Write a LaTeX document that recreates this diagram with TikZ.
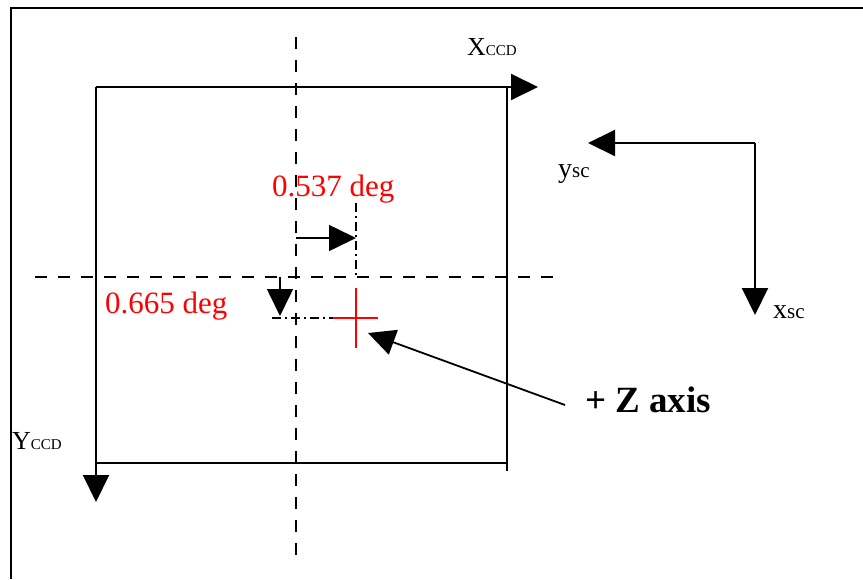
\documentclass[tikz,border=0pt]{standalone}
\usepackage{fontspec}
\setmainfont{Liberation Serif}
\usetikzlibrary{arrows.meta}

% axis name with a smaller index on the same line
\newcommand{\axname}[4][26]{{\fontsize{#1}{#1}\selectfont #3}{\fontsize{#2}{#2}\selectfont #4}}

\begin{document}
\begin{tikzpicture}[x=1pt, y=-1pt,
    >={Triangle[length=27pt, width=26pt]},
    frame/.style={line width=2.2pt},
    ccdline/.style={line width=2pt},
    axis/.style={line width=2pt, ->},
    guide/.style={line width=2pt, dash pattern=on 12pt off 11pt},
    offsetline/.style={line width=1.3pt, dash pattern=on 9pt off 4pt on 2pt off 4pt},
    dimarrow/.style={line width=1.6pt, ->},
    lbl/.style={anchor=base west, inner sep=0pt},
    degtext/.style={lbl, text=red, font=\fontsize{31}{31}\selectfont}]
  \useasboundingbox (0,0) rectangle (863,579);

  % outer frame
  \draw[frame] (863,8) -- (11,8) -- (11,579);

  % CCD field
  \coordinate (ccdTL) at (96,87);
  \coordinate (ccdTR) at (507,87);
  \coordinate (ccdBL) at (96,463);
  \coordinate (ccdBR) at (507,463);
  \coordinate (ccdRend) at (507,471);
  \coordinate (xccd) at (538,87);
  \coordinate (yccd) at (96,502);
  \draw[ccdline] (ccdTR) -- (ccdRend);
  \draw[ccdline] (ccdBL) -- (ccdBR);
  \draw[axis] (ccdTL) -- (xccd);
  \draw[axis] (ccdTL) -- (yccd);
  \node[lbl] (xccdlbl) at (467,55) {\axname{15}{X}{CCD}};
  \node[lbl] (yccdlbl) at (12,449) {\axname{15}{Y}{CCD}};

  % spacecraft axes
  \coordinate (sc) at (755,143);
  \coordinate (ysc) at (588,143);
  \coordinate (xsc) at (755,315);
  \draw[axis] (sc) -- (ysc);
  \draw[axis] (sc) -- (xsc);
  \node[lbl] (ysclbl) at (558,177) {\axname[28]{21}{y}{sc}};
  \node[lbl] (xsclbl) at (773,318) {\axname[28]{21}{x}{sc}};

  % centre lines
  \coordinate (vtop) at (296,37);
  \coordinate (vbot) at (296,560);
  \coordinate (hleft) at (35,277);
  \coordinate (hright) at (555,277);
  \draw[guide] (vtop) -- (vbot);
  \draw[guide] (hleft) -- (hright);

  % offsets of the boresight
  \coordinate (zc) at (356,318);
  \coordinate (dxa) at (296,238);
  \coordinate (dxb) at (356,238);
  \coordinate (dya) at (280,277);
  \coordinate (dyb) at (280,316);
  \draw[offsetline] (356,203) -- (356,277);
  \draw[offsetline] (272,318) -- (333,318);
  \draw[dimarrow] (dxa) -- (dxb);
  \draw[dimarrow] (dya) -- (dyb);
  \node[degtext] (dxlbl) at (272,196) {0.537 deg};
  \node[degtext] (dylbl) at (105,313) {0.665 deg};

  % +Z marker
  \draw[red, line width=1.5pt] ([xshift=-23pt]zc) -- ([xshift=22pt]zc)
    ([yshift=30pt]zc) -- ([yshift=-30pt]zc);
  \node[lbl, font=\bfseries\fontsize{37}{37}\selectfont] (zlbl) at (585,412) {+ Z axis};
  \coordinate (zfrom) at (565,405);
  \coordinate (zto) at (368,333);
  \draw[dimarrow, line width=1.8pt] (zfrom) -- (zto);
\end{tikzpicture}
\end{document}
